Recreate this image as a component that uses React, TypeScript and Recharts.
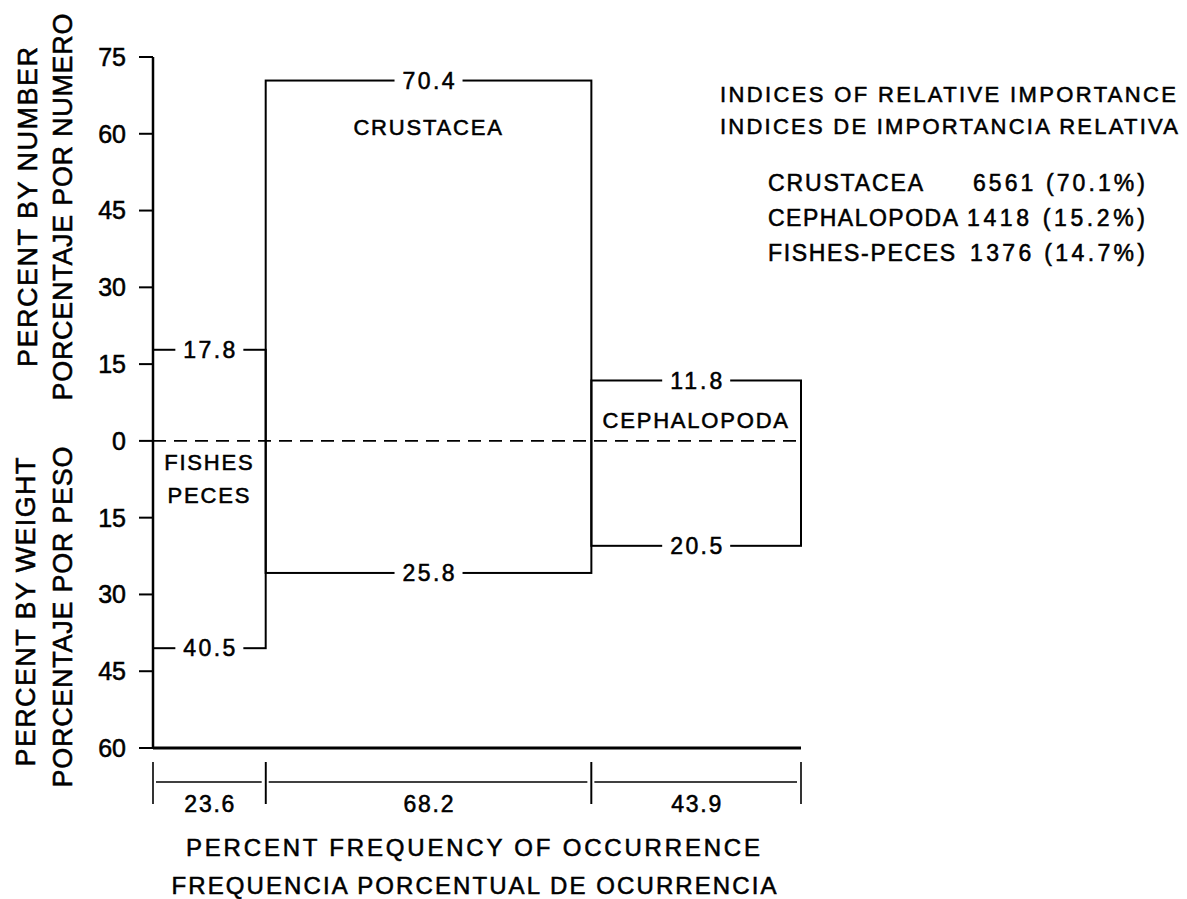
import React from 'react';
import { ComposedChart, XAxis, YAxis, ReferenceArea, ReferenceLine } from 'recharts';

// ---------- data ----------
const categories = ['FISHES', 'CRUSTACEA', 'CEPHALOPODA'];
const categoryLabelLines = [['FISHES', 'PECES'], ['CRUSTACEA'], ['CEPHALOPODA']];
const frequency = [23.6, 68.2, 43.9]; // percent frequency of occurrence
const percentNumber = [17.8, 70.4, 11.8]; // percent by number (upwards)
const percentWeight = [40.5, 25.8, 20.5]; // percent by weight (downwards)
const yTicks = [75, 60, 45, 30, 15, 0, -15, -30, -45, -60];

const iriNames = ['CRUSTACEA', 'CEPHALOPODA', 'FISHES-PECES'];
const iriValues = [6561, 1418, 1376];
const iriPercent = [70.1, 15.2, 14.7];

// ---------- layout / style ----------
const W = 1187;
const H = 899;
const FONT = '"Liberation Sans", Arial, Helvetica, sans-serif';
const TS = 0.55; // text stroke to give the heavier print look

const starts: number[] = [];
const ends: number[] = [];
frequency.reduce((acc, f, i) => {
  starts[i] = acc;
  ends[i] = acc + f;
  return acc + f;
}, 0);
const total = ends[ends.length - 1];

// name-label placement (pixel offsets from either the rectangle top or the zero line)
const namePlacement = [
  { from: 'zero', dy: [21, 54] },
  { from: 'top', dy: [47] },
  { from: 'zero', dy: [-21] },
];

function ValueLabel({ cx, cy, text }: { cx: number; cy: number; text: string }) {
  const bw = 68;
  return (
    <g>
      <rect x={cx - bw / 2} y={cy - 10} width={bw} height={20} fill="#fff" stroke="none" />
      <text
        x={cx}
        y={cy}
        dy="0.36em"
        textAnchor="middle"
        fontFamily={FONT}
        fontSize={23}
        fill="#000"
        stroke="#000"
        strokeWidth={TS}
        textLength={52}
        lengthAdjust="spacing"
      >
        {text}
      </text>
    </g>
  );
}

function CategoryRect(props: any) {
  const { x, y, width, height, idx } = props;
  const top = y;
  const bottom = y + height;
  const cx = x + width / 2;
  const zeroY = y + (height * percentNumber[idx]) / (percentNumber[idx] + percentWeight[idx]);
  const place = namePlacement[idx];
  const base = place.from === 'zero' ? zeroY : top;
  return (
    <g>
      <rect x={x} y={top} width={width} height={height} fill="none" stroke="#000" strokeWidth={2} />
      <ValueLabel cx={cx} cy={top} text={percentNumber[idx].toFixed(1)} />
      <ValueLabel cx={cx} cy={bottom} text={percentWeight[idx].toFixed(1)} />
      {categoryLabelLines[idx].map((line, k) => (
        <text
          key={line}
          x={cx}
          y={base + place.dy[k]}
          dy="0.36em"
          textAnchor="middle"
          fontFamily={FONT}
          fontSize={22}
          fill="#000"
          stroke="#000"
          strokeWidth={TS}
          letterSpacing={1.8}
        >
          {line}
        </text>
      ))}
    </g>
  );
}

function Bracket(props: any) {
  const { x, y, width, height, idx } = props;
  const b = y + height;
  return (
    <g>
      <line x1={x} x2={x} y1={b + 14} y2={b + 56} stroke="#000" strokeWidth={1.6} />
      <line x1={x + width} x2={x + width} y1={b + 14} y2={b + 56} stroke="#000" strokeWidth={1.6} />
      <line x1={x + 3} x2={x + width - 4} y1={b + 34} y2={b + 34} stroke="#000" strokeWidth={1.6} />
      <text
        x={x + width / 2}
        y={b + 56}
        dy="0.36em"
        textAnchor="middle"
        fontFamily={FONT}
        fontSize={23}
        fill="#000"
        stroke="#000"
        strokeWidth={TS}
        textLength={50}
        lengthAdjust="spacing"
      >
        {frequency[idx].toFixed(1)}
      </text>
    </g>
  );
}

function RotText({ cx, cy, text, len }: { cx: number; cy: number; text: string; len: number }) {
  return (
    <text
      transform={`translate(${cx},${cy}) rotate(-90)`}
      x={0}
      y={0}
      dy="0.36em"
      textAnchor="middle"
      fontFamily={FONT}
      fontSize={27}
      fill="#000"
      stroke="#000"
      strokeWidth={TS}
      textLength={len}
      lengthAdjust="spacing"
    >
      {text}
    </text>
  );
}

function Txt({ x, y, text, len, anchor = 'start', size = 22 }: any) {
  return (
    <text
      x={x}
      y={y}
      dy="0.36em"
      textAnchor={anchor}
      fontFamily={FONT}
      fontSize={size}
      fill="#000"
      stroke="#000"
      strokeWidth={TS}
      textLength={len}
      lengthAdjust="spacing"
    >
      {text}
    </text>
  );
}

export default function App() {
  return (
    <div style={{ position: 'absolute', left: 0, top: 0, width: W, height: H, background: '#fff', overflow: 'hidden' }}>
      <ComposedChart width={W} height={H} margin={{ top: 57, right: 386, bottom: 151, left: 73 }}>
        <XAxis type="number" dataKey="x" domain={[0, total]} hide allowDataOverflow />
        <YAxis
          type="number"
          domain={[-60, 75]}
          ticks={yTicks}
          interval={0}
          width={80}
          allowDataOverflow
          tickFormatter={(v: number) => String(Math.abs(v))}
          tick={{ fill: '#000', fontSize: 25, fontFamily: FONT, stroke: '#000', strokeWidth: TS }}
          tickSize={14}
          tickMargin={13}
          axisLine={{ stroke: '#000', strokeWidth: 2.5 }}
          tickLine={{ stroke: '#000', strokeWidth: 2 }}
        />
        {categories.map((c, i) => (
          <ReferenceArea
            key={c}
            x1={starts[i]}
            x2={ends[i]}
            y1={-percentWeight[i]}
            y2={percentNumber[i]}
            ifOverflow="visible"
            shape={(p: any) => <CategoryRect {...p} idx={i} />}
          />
        ))}
        {categories.map((c, i) => (
          <ReferenceArea
            key={c + '-freq'}
            x1={starts[i]}
            x2={ends[i]}
            ifOverflow="visible"
            shape={(p: any) => <Bracket {...p} idx={i} />}
          />
        ))}
        <ReferenceLine y={0} stroke="#000" strokeWidth={1.6} strokeDasharray="13 8" />
        <ReferenceLine y={-60} stroke="#000" strokeWidth={3} />
      </ComposedChart>
      <svg
        width={W}
        height={H}
        style={{ position: 'absolute', left: 0, top: 0, pointerEvents: 'none' }}
      >
        <RotText cx={27} cy={207} text="PERCENT BY NUMBER" len={320} />
        <RotText cx={62} cy={207} text="PORCENTAJE POR NUMERO" len={387} />
        <RotText cx={25} cy={612} text="PERCENT BY WEIGHT" len={309} />
        <RotText cx={62} cy={617} text="PORCENTAJE POR PESO" len={341} />

        <Txt x={473} y={847} text="PERCENT FREQUENCY OF OCCURRENCE" len={574} anchor="middle" size={24} />
        <Txt x={474} y={885} text="FREQUENCIA PORCENTUAL DE OCURRENCIA" len={605} anchor="middle" size={24} />

        <Txt x={720} y={94} text="INDICES OF RELATIVE IMPORTANCE" len={456} size={22} />
        <Txt x={720} y={126} text="INDICES DE IMPORTANCIA RELATIVA" len={458} size={22} />
        {iriNames.map((n, i) => (
          <g key={n}>
            <Txt x={768} y={183 + i * 35} text={n} len={[155, 190, 187][i]} size={23} />
            <Txt
              x={1145}
              y={183 + i * 35}
              text={`${iriValues[i]} (${iriPercent[i].toFixed(1)}%)`}
              len={[172, 178, 175][i]}
              anchor="end"
              size={23}
            />
          </g>
        ))}
      </svg>
    </div>
  );
}
